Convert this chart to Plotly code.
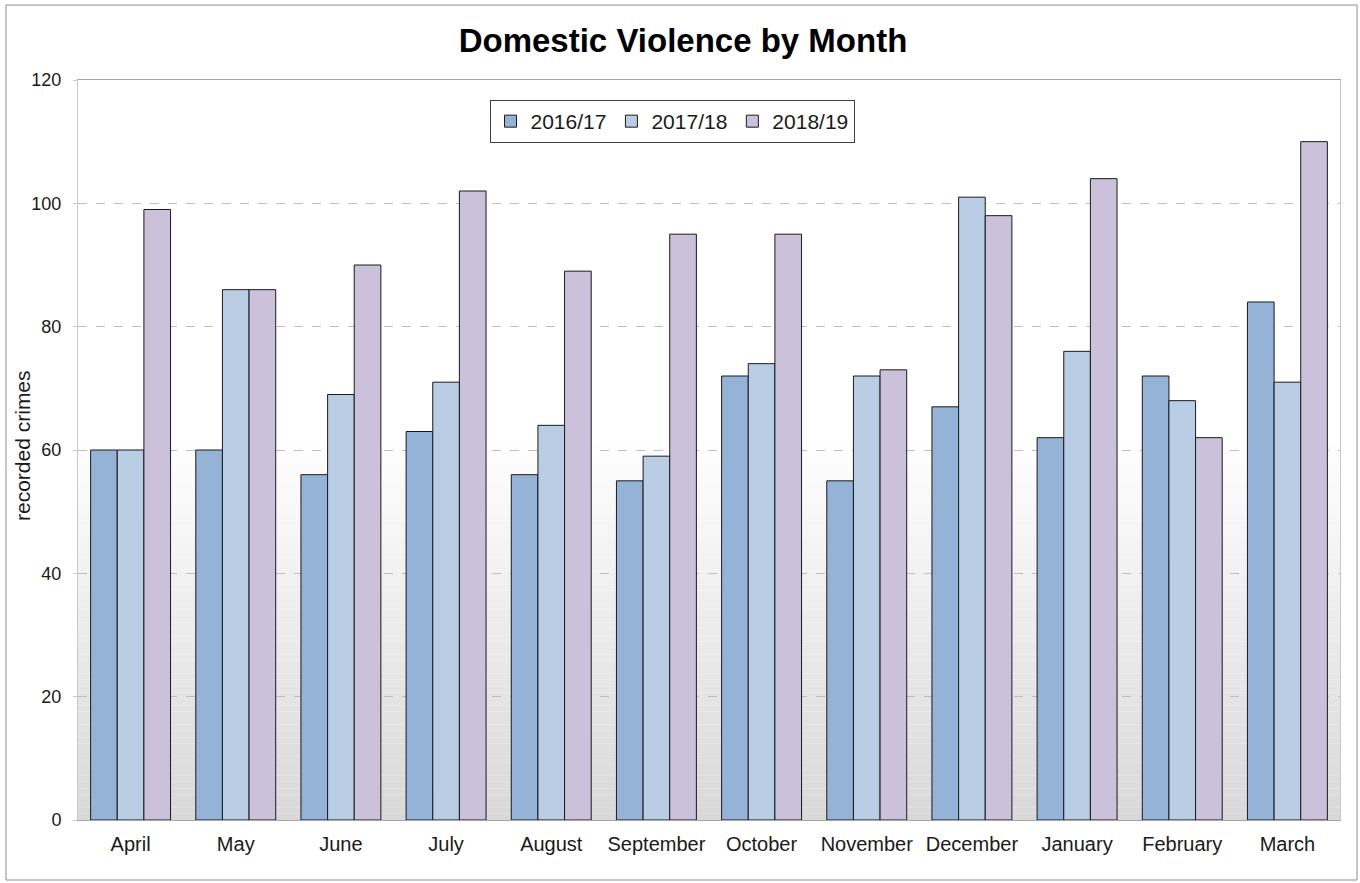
import plotly.graph_objects as go

months = ["April", "May", "June", "July", "August", "September", "October",
          "November", "December", "January", "February", "March"]
series_names = ["2016/17", "2017/18", "2018/19"]
v_2016 = [60, 60, 56, 63, 56, 55, 72, 55, 67, 62, 72, 84]
v_2017 = [60, 86, 69, 71, 64, 59, 74, 72, 101, 76, 68, 71]
v_2018 = [99, 86, 90, 102, 89, 95, 95, 73, 98, 104, 62, 110]
y_ticks = [0, 20, 40, 60, 80, 100, 120]

colors = ["#95B3D7", "#B9CDE5", "#CCC1DA"]
FONT = "Liberation Sans, Arial, sans-serif"

fig = go.Figure()
for name, vals, col in zip(series_names, [v_2016, v_2017, v_2018], colors):
    fig.add_trace(go.Bar(x=months, y=vals, name=name,
                         marker=dict(color=col, line=dict(color="#1a1a1a", width=1))))

# background gradient (white at ~60, grey at 0)
shapes = []
n = 60
top_val = 62.0
for i in range(n):
    y0 = top_val * i / n
    y1 = top_val * (i + 1) / n
    t = (i + 0.5) / n  # 0 bottom -> 1 top
    g = int(round(216 + (255 - 216) * t))
    shapes.append(dict(type="rect", xref="paper", yref="y", x0=0, x1=1, y0=y0, y1=y1,
                       fillcolor=f"rgb({g},{g},{g})", line=dict(width=0), layer="below"))
# outer border
shapes.append(dict(type="rect", xref="paper", yref="paper",
                   x0=(6 - 78) / 1262, x1=(1357 - 78) / 1262,
                   y0=(820 - 880) / 740, y1=(820 - 5) / 740,
                   line=dict(color="#8c8c8c", width=1), fillcolor="rgba(0,0,0,0)"))

fig.update_layout(
    width=1360, height=883,
    margin=dict(l=78, r=20, t=80, b=63, autoexpand=False),
    paper_bgcolor="white", plot_bgcolor="white",
    font=dict(family=FONT, color="#1a1a1a", size=18),
    title=dict(text="<b>Domestic Violence by Month</b>", x=683 / 1360, xanchor="center",
               y=1 - 40 / 883, yanchor="middle",
               font=dict(family=FONT, size=33, color="black")),
    barmode="group", bargap=0.24, bargroupgap=0,
    legend=dict(orientation="h", x=(672 - 78) / 1262, xanchor="center",
                y=(820 - 100) / 740, yanchor="top",
                bordercolor="#404040", borderwidth=1, bgcolor="white",
                font=dict(size=21, color="#1a1a1a"), itemwidth=30,
                traceorder="normal", tracegroupgap=0),
    shapes=shapes,
    annotations=[dict(text="recorded crimes", textangle=-90, xref="paper", yref="paper",
                      x=(22 - 78) / 1262, y=(820 - 446) / 740, xanchor="center",
                      yanchor="middle", showarrow=False,
                      font=dict(size=21, color="#1a1a1a"))],
    showlegend=True,
)
fig.update_xaxes(showline=True, linecolor="#a6a6a6", linewidth=1, mirror=True,
                 ticks="", tickfont=dict(size=20), showgrid=False,
                 ticklabelstandoff=6, automargin=False)
fig.update_yaxes(range=[0, 120], tickvals=y_ticks, showline=True, linecolor="#c8c8c8",
                 mirror=True, gridcolor="#bfbfbf", griddash="dash", gridwidth=1,
                 ticks="outside", ticklen=4, tickcolor="#c8c8c8",
                 tickfont=dict(size=18), ticklabelstandoff=8,
                 zeroline=False, automargin=False)

fig.write_html("out.html", config={"displayModeBar": False},
               post_script="document.body.style.margin='0px';")
